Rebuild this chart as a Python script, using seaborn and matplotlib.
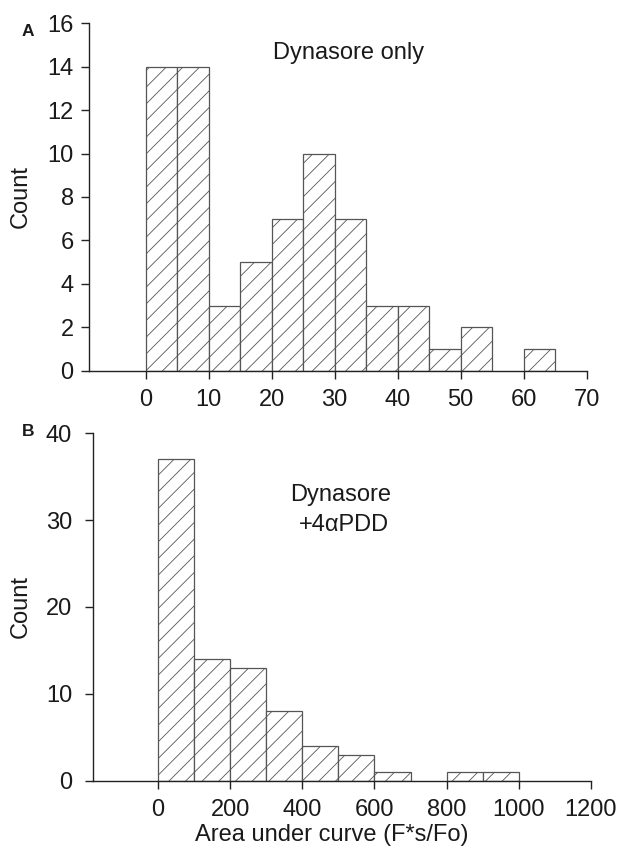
import matplotlib
matplotlib.use("Agg")
import matplotlib.pyplot as plt
import seaborn as sns
import numpy as np
import pandas as pd

sns.set_style("ticks")
plt.rcParams['font.family'] = ['Liberation Sans', 'DejaVu Sans']
plt.rcParams['hatch.linewidth'] = 0.6

# Panel A: Dynasore only
edges_a = [0, 5, 10, 15, 20, 25, 30, 35, 40, 45, 50, 55, 60, 65]
counts_a = [14, 14, 3, 5, 7, 10, 7, 3, 3, 1, 2, 0, 1]
xticks_a = [0, 10, 20, 30, 40, 50, 60, 70]
yticks_a = [0, 2, 4, 6, 8, 10, 12, 14, 16]

# Panel B: Dynasore + 4αPDD
edges_b = [0, 100, 200, 300, 400, 500, 600, 700, 800, 900, 1000]
counts_b = [37, 14, 13, 8, 4, 3, 1, 0, 1, 1]
xticks_b = [0, 200, 400, 600, 800, 1000, 1200]
yticks_b = [0, 10, 20, 30, 40]

FS = 17
TXT = '#1a1a1a'

fig = plt.figure(figsize=(6.19, 8.48), dpi=100)
ax1 = fig.add_axes([0.1438, 0.5629, 0.804, 0.4096])
ax2 = fig.add_axes([0.1502, 0.0794, 0.8045, 0.4096])

def draw(ax, edges, counts):
    e = np.array(edges, dtype=float)
    df = pd.DataFrame({'x': (e[:-1] + e[1:]) / 2, 'w': counts})
    sns.histplot(data=df, x='x', weights='w', binwidth=e[1] - e[0],
                 binrange=(e[0], e[-1]), ax=ax, stat='count',
                 color='white', edgecolor='#555555', linewidth=0.9, alpha=1)
    for p in ax.patches:
        p.set_hatch('//')
        p.set_facecolor('white')
        p.set_edgecolor('#555555')
        if p.get_height() == 0:
            p.set_visible(False)

draw(ax1, edges_a, counts_a)
draw(ax2, edges_b, counts_b)

for ax in (ax1, ax2):
    for s in ('top', 'right'):
        ax.spines[s].set_visible(False)
    for s in ('left', 'bottom'):
        ax.spines[s].set_color('#222222')
        ax.spines[s].set_linewidth(1.0)
    ax.tick_params(axis='both', direction='out', length=6, width=1.0,
                   color='#222222', labelsize=FS, labelcolor=TXT)

ax1.set_xlim(-9, 70)
ax1.set_ylim(0, 16)
ax1.set_xticks(xticks_a)
ax1.set_yticks(yticks_a)
ax1.set_xlabel('')
ax1.set_ylabel('Count', fontsize=FS, color=TXT)
ax1.yaxis.set_label_coords(-0.1145, 0.5)
ax1.tick_params(axis='x', pad=7)
ax1.tick_params(axis='y', pad=5)
ax1.text(0.522, 0.9145, 'Dynasore only', transform=ax1.transAxes, ha='center',
         va='center', fontsize=FS, color=TXT)

ax2.set_xlim(-180, 1200)
ax2.set_ylim(0, 40)
ax2.set_xticks(xticks_b)
ax2.set_yticks(yticks_b)
ax2.set_ylabel('Count', fontsize=FS, color=TXT)
ax2.yaxis.set_label_coords(-0.1225, 0.5)
ax2.set_xlabel('Area under curve (F*s/Fo)', fontsize=FS, color=TXT)
ax2.xaxis.set_label_coords(0.48, -0.124)
ax2.tick_params(axis='x', pad=7)
ax2.tick_params(axis='y', pad=9)
ax2.text(0.498, 0.822, 'Dynasore', transform=ax2.transAxes, ha='center',
         va='center', fontsize=FS, color=TXT)
ax2.text(0.504, 0.736, '+4\u03b1PDD', transform=ax2.transAxes, ha='center',
         va='center', fontsize=FS, color=TXT)

fig.text(28 / 619, 1 - 32 / 848, 'A', fontsize=12.5, fontweight='bold', ha='center', va='center', color=TXT)
fig.text(28 / 619, 1 - 432 / 848, 'B', fontsize=12.5, fontweight='bold', ha='center', va='center', color=TXT)

fig.savefig('out.png', dpi=100)
